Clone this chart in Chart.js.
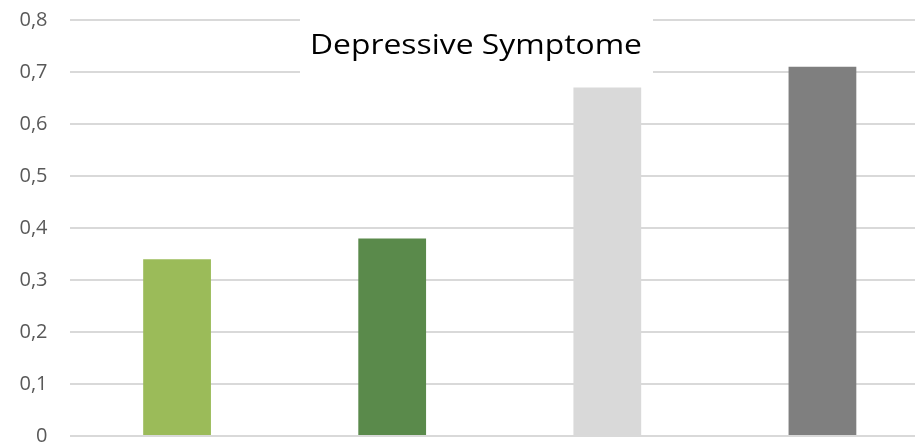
<!DOCTYPE html>
<html>
<head>
<meta charset="utf-8">
<script src="https://cdn.jsdelivr.net/npm/chart.js@4"></script>
<style>
  html, body { margin: 0; padding: 0; overflow: hidden; background: #fff; }
</style>
</head>
<body>
<canvas id="myChart" width="930" height="444"></canvas>
<script>
const categories = ['A', 'B', 'C', 'D'];
const values = [0.34, 0.38, 0.67, 0.71];
const barColors = ['#9BBB59', '#5A8A4B', '#D9D9D9', '#7F7F7F'];
const titleText = 'Depressive Symptome';

// title sits on top of the plot with a white box behind it
const titleBox = {
  id: 'titleBox',
  afterDraw(chart) {
    const c = chart.ctx;
    c.save();
    c.fillStyle = '#fff';
    c.fillRect(300, 17, 353, 58);
    c.font = '27px "Open Sans", sans-serif';
    const w = c.measureText(titleText).width;
    const sx = 332 / w;
    c.translate(476, 54);
    c.scale(sx, 1);
    c.fillStyle = '#000';
    c.textAlign = 'center';
    c.textBaseline = 'alphabetic';
    c.fillText(titleText, 0, 0);
    c.restore();
  }
};

const ctx = document.getElementById('myChart');
const chart = new Chart(ctx, {
  type: 'bar',
  data: {
    labels: categories,
    datasets: [{data: values, backgroundColor: barColors, barPercentage: 0.63, categoryPercentage: 0.5}]
  },
  options: {
    responsive: false,
    animation: false,
    layout: {padding: {top: 20, right: 0, bottom: 8, left: 0}},
    plugins: {legend: {display: false}, tooltip: {enabled: false}, title: {display: false}},
    scales: {
      x: {display: false},
      y: {
        min: 0,
        max: 0.8,
        afterFit: (scale) => {
          scale.width = 69.5;
          scale.paddingTop = 0;
          scale.paddingBottom = 0;
        },
        ticks: {
          stepSize: 0.1,
          color: '#595959',
          padding: 22,
          font: {family: '"Open Sans", sans-serif', size: 20},
          callback: (v) => v === 0 ? '0' : v.toFixed(1).replace('.', ',')
        },
        grid: {color: '#D9D9D9', lineWidth: 2, drawTicks: false},
        border: {display: false}
      }
    }
  },
  plugins: [titleBox]
});
</script>
</body>
</html>
